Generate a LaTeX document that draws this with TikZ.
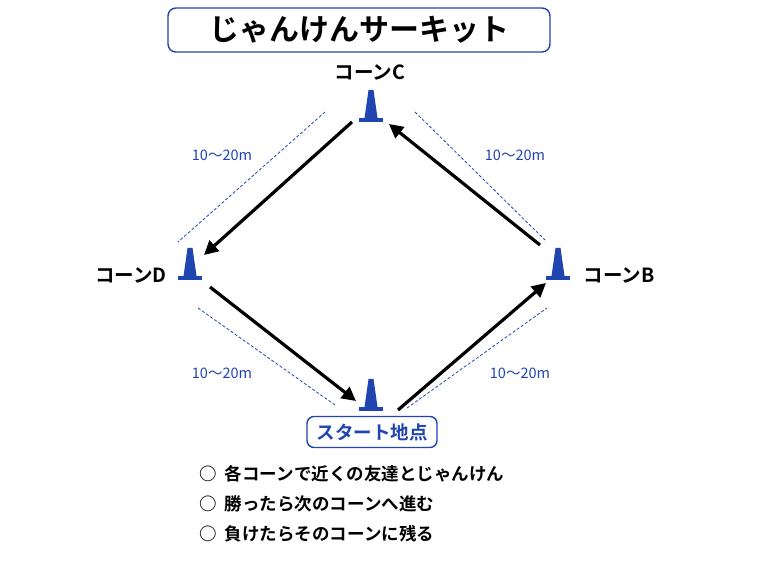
\documentclass[tikz,border=0pt]{standalone}
\usepackage{fontspec}
\setmainfont{Noto Sans CJK JP}[BoldFont={* Bold}]
\usetikzlibrary{arrows.meta}
\definecolor{cblue}{RGB}{32,68,176}
\begin{document}
\begin{tikzpicture}[x=1pt,y=-1pt,
  cone/.pic={\fill[cblue] (-2.5,-32) -- (2.5,-32) -- (6.5,-4) -- (-6.5,-4) -- cycle;
    \fill[cblue] (-12,-4) rectangle (12,0);},
  arr/.style={line width=3.2pt,-{Triangle[length=14pt,width=14pt]}},
  dim/.style={cblue,dash pattern=on 3pt off 2pt,line width=0.8pt},
  lab/.style={font=\bfseries\fontsize{19.5}{19.5}\selectfont},
  dl/.style={cblue,font=\fontsize{14.5}{14.5}\selectfont},
  it/.style={anchor=west,font=\bfseries\fontsize{17.5}{17.5}\selectfont}]
\useasboundingbox (0,0) rectangle (758,569);
\node[draw=cblue,line width=1.4pt,rounded corners=8pt,minimum width=382pt,minimum height=44pt,font=\bfseries\fontsize{30}{30}\selectfont] (title) at (359,30) {じゃんけんサーキット};
\pic at (371,122) {cone}; \pic at (190,280) {cone}; \pic at (558,280) {cone}; \pic at (371,411) {cone};
\node[lab] (lc) at (370,72) {コーンC};
\node[lab,anchor=east] (ld) at (170,275) {コーンD};
\node[lab,anchor=west] (lb) at (580,275) {コーンB};
\node[draw=cblue,line width=1.4pt,rounded corners=7pt,minimum width=130pt,minimum height=31pt,text=cblue,font=\bfseries\fontsize{18.5}{18.5}\selectfont] (st) at (372,432) {スタート地点};
\coordinate (c1) at (352,122); \coordinate (d1) at (204,255);
\coordinate (d2) at (210,287); \coordinate (s1) at (356,401);
\coordinate (s2) at (398,410); \coordinate (b1) at (546,283);
\coordinate (b2) at (540,245); \coordinate (c2) at (389,124);
\draw[arr] (c1) -- (d1); \draw[arr] (d2) -- (s1); \draw[arr] (s2) -- (b1); \draw[arr] (b2) -- (c2);
\coordinate (p1) at (325,112); \coordinate (p2) at (178,242);
\coordinate (p3) at (415,112); \coordinate (p4) at (545,240);
\coordinate (p5) at (198,308); \coordinate (p6) at (335,405);
\coordinate (p7) at (407,408); \coordinate (p8) at (547,308);
\draw[dim] (p1) -- (p2); \draw[dim] (p3) -- (p4); \draw[dim] (p5) -- (p6); \draw[dim] (p7) -- (p8);
\node[dl] (t1) at (222,155) {10〜20m};
\node[dl] (t2) at (515,155) {10〜20m};
\node[dl] (t3) at (222,373) {10〜20m};
\node[dl] (t4) at (520,373) {10〜20m};
\node[it] (i1) at (196,474) {○\ \ 各コーンで近くの友達とじゃんけん};
\node[it] (i2) at (196,504) {○\ \ 勝ったら次のコーンへ進む};
\node[it] (i3) at (196,534) {○\ \ 負けたらそのコーンに残る};
\end{tikzpicture}
\end{document}
